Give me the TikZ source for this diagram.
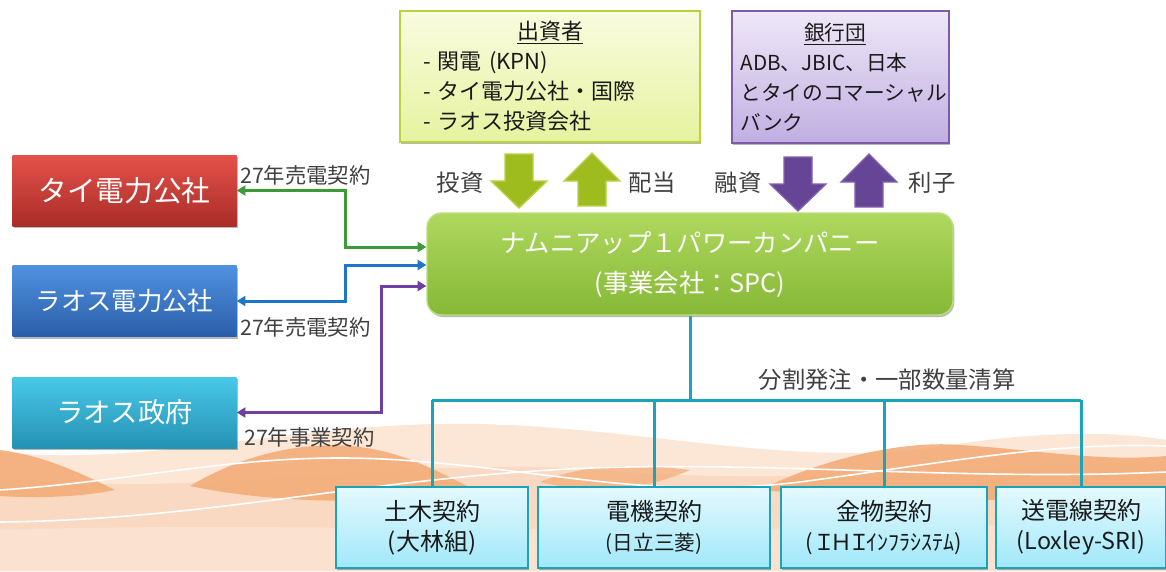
\documentclass[tikz,border=0pt]{standalone}
\usepackage{fontspec}
\setmainfont{Noto Sans CJK JP}
\usetikzlibrary{arrows.meta,shadows}

\definecolor{redT}{RGB}{228,82,74}
\definecolor{redB}{RGB}{170,44,40}
\definecolor{blueT}{RGB}{80,146,224}
\definecolor{blueB}{RGB}{42,94,170}
\definecolor{cyanT}{RGB}{72,200,232}
\definecolor{cyanB}{RGB}{38,146,180}
\definecolor{spcT}{RGB}{174,216,94}
\definecolor{spcB}{RGB}{134,184,54}
\definecolor{spcE}{RGB}{188,222,128}
\definecolor{invT}{RGB}{249,252,224}
\definecolor{invB}{RGB}{230,243,158}
\definecolor{invE}{RGB}{184,212,60}
\definecolor{bankT}{RGB}{238,232,247}
\definecolor{bankB}{RGB}{192,174,226}
\definecolor{bankE}{RGB}{122,92,168}
\definecolor{arrG}{RGB}{158,188,30}
\definecolor{arrGE}{RGB}{186,210,72}
\definecolor{arrP}{RGB}{102,68,150}
\definecolor{arrPE}{RGB}{128,98,178}
\definecolor{lnG}{RGB}{60,155,55}
\definecolor{lnB}{RGB}{30,118,200}
\definecolor{lnP}{RGB}{112,64,160}
\definecolor{tealLn}{RGB}{27,163,184}
\definecolor{ctrT}{RGB}{228,249,254}
\definecolor{ctrB}{RGB}{160,232,250}
\definecolor{lbl}{RGB}{64,64,64}
\definecolor{darktxt}{RGB}{26,26,26}
\definecolor{peachL}{RGB}{252,230,214}
\definecolor{peachM}{RGB}{249,217,193}
\definecolor{orangeD}{RGB}{243,170,116}

\tikzset{
  softshadow/.style={drop shadow={shadow xshift=1pt,shadow yshift=-1.5pt,opacity=0.28,fill=black}},
  partybox/.style={minimum width=168pt,minimum height=53.25pt,inner sep=0pt,
    text=white,softshadow},
  ctrbox/.style={draw=tealLn,line width=1.5pt,top color=ctrT,bottom color=ctrB,
    minimum height=60.75pt,inner sep=0pt,align=center,text=darktxt,
    font=\fontsize{18}{22.5}\selectfont,softshadow},
  lbltext/.style={text=lbl,inner sep=0pt},
  contract/.style={line width=2.25pt,{Triangle[length=6.5pt,width=7.5pt]}-{Triangle[length=6.5pt,width=7.5pt]}},
  treeln/.style={draw=tealLn,line width=2.25pt},
  arrowdown/.pic={\path[pic actions,line width=1pt] (-14,0) -- (14,0) -- (14,27) -- (28,27) -- (0,54) -- (-28,27) -- (-14,27) -- cycle;},
  arrowup/.pic={\path[pic actions,line width=1pt] (0,0) -- (28,28) -- (14,28) -- (14,53) -- (-14,53) -- (-14,28) -- (-28,28) -- cycle;},
}

\begin{document}
\begin{tikzpicture}[x=0.75pt,y=-0.75pt]
\useasboundingbox (0,0) rectangle (1166,571);
\fill[white] (0,0) rectangle (1166,571);

% decorative waves along the bottom
\fill[peachL] (0,452) .. controls (150,468) and (300,420) .. (480,424)
  .. controls (650,428) and (800,470) .. (950,445)
  .. controls (1050,430) and (1120,432) .. (1166,440) -- (1166,571) -- (0,571) -- cycle;
\fill[peachM] (0,478) .. controls (200,500) and (400,455) .. (600,470)
  .. controls (800,488) and (1000,462) .. (1166,462) -- (1166,571) -- (0,571) -- cycle;
\fill[peachL!70!peachM] (0,530) .. controls (300,520) and (600,540) .. (1166,520) -- (1166,571) -- (0,571) -- cycle;
\fill[orangeD,opacity=0.85] (0,450) .. controls (40,455) and (75,470) .. (115,490)
  .. controls (75,498) and (30,498) .. (0,496) -- cycle;
\fill[orangeD,opacity=0.85] (190,486) .. controls (240,456) and (300,440) .. (360,447)
  .. controls (405,453) and (435,470) .. (475,490)
  .. controls (400,505) and (280,505) .. (190,486) -- cycle;
\fill[orangeD,opacity=0.7] (540,482) .. controls (580,466) and (625,462) .. (690,470)
  .. controls (640,492) and (590,494) .. (540,482) -- cycle;
\fill[orangeD,opacity=0.85] (760,490) .. controls (820,460) and (900,440) .. (960,445)
  .. controls (1040,450) and (1100,462) .. (1166,456) -- (1166,496)
  .. controls (1050,502) and (900,502) .. (760,490) -- cycle;
\draw[white,line width=1.2pt] (0,490) .. controls (150,480) and (250,450) .. (400,460)
  .. controls (550,470) and (650,500) .. (800,482)
  .. controls (950,462) and (1050,442) .. (1166,446);
\draw[white,line width=1.2pt] (0,522) .. controls (200,520) and (350,482) .. (550,470)
  .. controls (750,458) and (950,482) .. (1166,472);

% investors and lenders
\node[draw=invE,line width=1pt,top color=invT,bottom color=invB,
  minimum width=225pt,minimum height=98.25pt,inner sep=0pt,text width=190.5pt,
  align=left,text=darktxt,font=\fontsize{16.5}{22.5}\selectfont,softshadow]
  (inv) at (550,76.5)
  {\makebox[190.5pt]{\underline{出資者}}\\- 関電 (KPN)\\- タイ電力公社・国際\\- ラオス投資会社};
\node[draw=bankE,line width=1pt,top color=bankT,bottom color=bankB,
  minimum width=162.75pt,minimum height=99pt,inner sep=0pt,text width=150pt,
  align=left,text=darktxt,font=\fontsize{15.5}{22.5}\selectfont,softshadow]
  (bank) at (840.5,77)
  {\makebox[142pt]{\underline{銀行団}}\\ADB、JBIC、日本\\とタイのコマーシャル\\バンク};

% project company
\node[draw=spcE,line width=1pt,rounded corners=11pt,top color=spcT,bottom color=spcB,
  minimum width=394.5pt,minimum height=76.5pt,inner sep=0pt,align=center,text=white,
  font=\fontsize{19}{30}\selectfont,softshadow]
  (spc) at (690,264) {\raisebox{-3pt}{ナムニアップ１パワーカンパニー}\\\raisebox{-3pt}{(事業会社：SPC)}};

% money flows
\pic[fill=arrG,draw=arrGE] at (519,154) {arrowdown};
\pic[fill=arrG,draw=arrGE] at (592,153) {arrowup};
\pic[fill=arrP,draw=arrPE] at (798,157) {arrowdown};
\pic[fill=arrP,draw=arrPE] at (869,154) {arrowup};
\node[lbltext,font=\fontsize{17.5}{20}\selectfont] (lInvest) at (460,183) {投資};
\node[lbltext,font=\fontsize{17.5}{20}\selectfont] (lDiv) at (652,183) {配当};
\node[lbltext,font=\fontsize{17.5}{20}\selectfont] (lLoan) at (738,183) {融資};
\node[lbltext,font=\fontsize{17.5}{20}\selectfont] (lInt) at (932,183) {利子};

% contract parties
\node[partybox,top color=redT,bottom color=redB,font=\fontsize{21.5}{26}\selectfont]
  (egat) at (124.5,190.5) {タイ電力公社};
\node[partybox,top color=blueT,bottom color=blueB,font=\fontsize{19}{24}\selectfont]
  (edl) at (124.5,301) {ラオス電力公社};
\node[partybox,top color=cyanT,bottom color=cyanB,font=\fontsize{20.5}{25}\selectfont]
  (gol) at (124.5,412.5) {ラオス政府};

\coordinate (gBend) at (345,247);
\coordinate (bBend) at (345,265);
\coordinate (pBend) at (381,286);
\draw[contract,lnG] (egat.east) -| (gBend) -- (gBend -| spc.west);
\draw[contract,lnB] (edl.east) -| (bBend) -- (bBend -| spc.west);
\draw[contract,lnP] (gol.east) -| (pBend) -- (pBend -| spc.west);

\node[lbltext,anchor=west,font=\fontsize{16}{20}\selectfont] (ppa1) at (240,175) {27年売電契約};
\node[lbltext,anchor=west,font=\fontsize{16}{20}\selectfont] (ppa2) at (240,327) {27年売電契約};
\node[lbltext,anchor=west,font=\fontsize{16}{20}\selectfont] (ca) at (244,437) {27年事業契約};

% construction contracts
\node[ctrbox,minimum width=144pt] (civil) at (432,527.5) {土木契約\\(大林組)};
\node[ctrbox,minimum width=174pt] (elec) at (654,527.5)
  {電機契約\\{\fontsize{15.5}{22.5}\selectfont (日立三菱)}};
\node[ctrbox,minimum width=154.5pt] (metal) at (884,527.5)
  {金物契約\\{\fontsize{16.5}{22.5}\selectfont (Ｉ\kern-3.5ptＨ\kern-3.5ptＩ\kern-2.5ptｲﾝﾌﾗｼｽﾃﾑ)}};
\node[ctrbox,minimum width=127.5pt] (tline) at (1081,527.5)
  {送電線契約\\{\fontsize{17.5}{22.5}\selectfont (Loxley-SRI)}};

\coordinate (bus) at (690,400);
\draw[treeln] (spc.south) -- (bus);
\draw[treeln] (civil.north |- bus) -- (tline.north |- bus);
\foreach \c in {civil,elec,metal,tline}
  \draw[treeln] (\c.north |- bus) -- (\c.north);
\node[lbltext,font=\fontsize{17.5}{20}\selectfont] (split) at (887,380) {分割発注・一部数量清算};
\end{tikzpicture}
\end{document}
